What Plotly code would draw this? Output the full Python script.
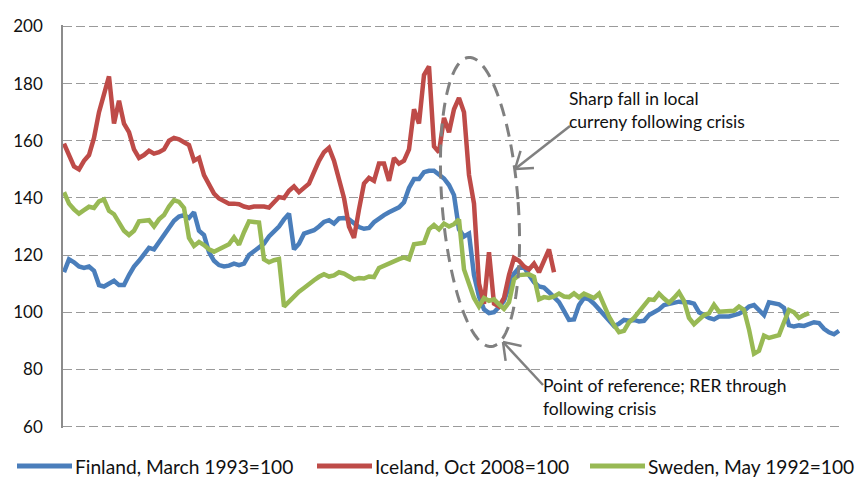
import math
import plotly.graph_objects as go

# ---- data (index-based, monthly-like positions) ----
finland = [114, 118.5, 117.5, 116, 115.5, 116, 114.5, 109.5, 109, 110,
           111, 109.5, 109.5, 113, 116, 118, 120, 122.5, 122, 124.5,
           127, 129.5, 132, 133.5, 134, 133, 135, 128.5, 127, 121,
           118, 116.5, 116, 116.3, 117, 116.5, 117, 120, 121.5, 122.8,
           124, 126.5, 128, 130, 132.5, 134.5, 122, 124, 127.5, 128,
           128.7, 130, 131.6, 132.2, 131, 132.8, 133, 132.5, 131, 129.8,
           129.2, 129.5, 131.5, 133, 134, 135, 136, 136.7, 138.5, 143.5,
           146.6, 146.6, 149, 149.5, 149.5, 148, 146.8, 144.5, 141, 129,
           126.5, 127.5, 113, 105.5, 101, 99.7, 100, 101.8, 104, 109,
           113.5, 115.5, 115.8, 113, 110.5, 109, 108.6, 107, 105, 103.5,
           100.5, 97.3, 97.5, 102.5, 105, 104.5, 103, 101, 99, 97,
           95.2, 96, 97.3, 97, 97.3, 96.8, 97, 99, 100, 101,
           102.5, 103, 103.3, 103.7, 103.5, 103.5, 103, 100, 99, 98,
           97.5, 98.5, 98.5, 98.5, 99, 99.5, 100.5, 102, 102.5, 100.5,
           99, 103.5, 103, 102.8, 101.5, 95.5, 95, 95.4, 95.2, 95.8,
           96.5, 96.2, 94.2, 93, 92.3, 93.5]

iceland = [159, 155, 151, 150, 153, 155, 161, 170, 177, 182.5,
           166, 174, 166, 163, 157, 154, 155, 156.5, 155.5, 156,
           157, 160, 161, 160.5, 159.5, 158.5, 153, 154, 148, 145,
           141.5, 139.8, 139, 138, 138, 137.8, 137, 136.6, 137, 137,
           137, 136.6, 138.6, 140.3, 140, 142.5, 144, 142, 143.5, 145,
           149, 153, 156, 157.5, 153, 146, 140, 130, 126, 136,
           145, 147, 146, 152, 152, 146, 154, 152, 153, 157,
           171, 166, 183, 186, 158, 156, 168, 163, 171, 175,
           170, 148, 138, 110, 103, 121, 103, 102, 105, 113,
           119, 118, 116, 115, 117, 114, 118, 122, 114]

sweden = [142, 138, 136, 134.5, 135.7, 136.9, 136.5, 138.8, 139.5, 135.5,
          134.3, 131.5, 128.5, 127, 128.5, 131.8, 132.2, 132.2, 130, 132.5,
          134, 137, 139.2, 138.6, 136.5, 126, 123.2, 124.6, 123.5, 122,
          121.2, 122, 122.8, 123.8, 126.2, 123.6, 128, 131.8, 131.6, 131.4,
          118.5, 117.5, 118.2, 118.6, 102, 103.8, 105.5, 107.2, 108.5, 110,
          111.2, 112.4, 113.3, 112.5, 112.9, 114, 113.5, 112.5, 111.5, 112,
          111.8, 112.5, 112.3, 115.5, 116.3, 117.4, 118, 118.6, 119.2, 118.5,
          123.8, 124, 124.3, 129, 130.5, 129, 131, 130, 130.8, 132.5,
          115, 110, 105, 102, 105, 104, 104.5, 102.8, 101.2, 103.5,
          111.5, 113, 113, 113.3, 112.4, 104.5, 105.3, 105, 105.5, 106.5,
          105.5, 105.3, 106.6, 105.2, 106.5, 105.8, 105, 106.5, 102, 98.5,
          95.5, 93, 93.5, 96.5, 98, 100, 102.3, 104.5, 104.3, 106.5,
          104.8, 103.3, 105, 107, 104, 98, 95.8, 97.3, 99, 99.7,
          102.6, 100.2, 100.2, 100.5, 100.5, 102, 100.8, 94, 85.5, 86.5,
          91.8, 91, 91.5, 92, 96.5, 100.8, 100, 98, 99, 99.7]

series_names = ["Finland, March 1993=100", "Iceland, Oct 2008=100", "Sweden, May 1992=100"]
series_values = [finland, iceland, sweden]
series_colors = ["#4A7EBB", "#BE4B48", "#98B954"]

y_ticks = [60, 80, 100, 120, 140, 160, 180, 200]

# ---- layout geometry ----
W, H = 856, 477
L, R, T, B = 63, 16, 25, 49
PW = W - L - R
PH = H - T - B


def fx(px):
    return (px - L) / PW


def fy(py):
    return (H - B - py) / PH


FONT = "Lato, 'Open Sans', sans-serif"
TXT = "#111111"

fig = go.Figure()
for name, vals, col in zip(series_names, series_values, series_colors):
    fig.add_trace(go.Scatter(
        x=list(range(len(vals))), y=vals, mode="lines", name=name,
        line=dict(color=col, width=4.5), showlegend=False,
    ))

shapes = []

# dashed ellipse
cx, cy, a, b, th = 480, 202, 145, 38, math.radians(4.5)
pts = []
for k in range(0, 121):
    t = 2 * math.pi * k / 120
    ux, uy = -math.sin(th), -math.cos(th)
    vx, vy = math.cos(th), -math.sin(th)
    x = cx + a * math.sin(t) * ux + b * math.cos(t) * vx
    y = cy + a * math.sin(t) * uy + b * math.cos(t) * vy
    pts.append((fx(x), fy(y)))
path = "M " + " L ".join(f"{x:.5f},{y:.5f}" for x, y in pts) + " Z"
shapes.append(dict(type="path", path=path, xref="paper", yref="paper",
                   line=dict(color="#808080", width=3, dash="13px,8px")))


def arrow(tail, tip, arm=19, ang=35):
    out = []
    out.append(dict(type="line", xref="paper", yref="paper",
                    x0=fx(tail[0]), y0=fy(tail[1]), x1=fx(tip[0]), y1=fy(tip[1]),
                    line=dict(color="#808080", width=2.5)))
    dx, dy = tail[0] - tip[0], tail[1] - tip[1]
    n = math.hypot(dx, dy)
    dx, dy = dx / n, dy / n
    for s in (1, -1):
        c, si = math.cos(math.radians(ang)), s * math.sin(math.radians(ang))
        rx, ry = dx * c - dy * si, dx * si + dy * c
        out.append(dict(type="line", xref="paper", yref="paper",
                        x0=fx(tip[0]), y0=fy(tip[1]),
                        x1=fx(tip[0] + arm * rx), y1=fy(tip[1] + arm * ry),
                        line=dict(color="#808080", width=2.5)))
    return out


shapes += arrow((570, 126), (515, 169))
shapes += arrow((543, 385), (503, 342))

annotations = [
    dict(x=fx(567), y=fy(110), xref="paper", yref="paper", xanchor="left", yanchor="middle",
         text="Sharp fall in local<br>curreny following crisis", showarrow=False, align="left",
         font=dict(family=FONT, size=17.5, color=TXT)),
    dict(x=fx(541), y=fy(397), xref="paper", yref="paper", xanchor="left", yanchor="middle",
         text="Point of reference; RER through<br>following crisis", showarrow=False, align="left",
         font=dict(family=FONT, size=17.5, color=TXT)),
]

# manual legend (line sample + label)
legend_pos = [(17, 72, 73), (317, 372, 373), (590, 645, 646)]
LEG_Y = 466
for (x0, x1, xt), name, col in zip(legend_pos, series_names, series_colors):
    shapes.append(dict(type="line", xref="paper", yref="paper",
                       x0=fx(x0), x1=fx(x1), y0=fy(LEG_Y), y1=fy(LEG_Y),
                       line=dict(color=col, width=5)))
    annotations.append(dict(x=fx(xt), y=fy(LEG_Y), xref="paper", yref="paper",
                            xanchor="left", yanchor="middle", text=name, showarrow=False,
                            font=dict(family=FONT, size=19.2, color=TXT)))

fig.update_layout(
    width=W, height=H,
    margin=dict(l=L, r=R, t=T, b=B, pad=0, autoexpand=False),
    paper_bgcolor="white", plot_bgcolor="white",
    font=dict(family=FONT, size=18, color=TXT),
    showlegend=False,
    xaxis=dict(range=[-0.2, 155.2], visible=False, showgrid=False, zeroline=False),
    yaxis=dict(range=[59.5, 200.5], tickvals=y_ticks, ticktext=[str(v) for v in y_ticks],
               showgrid=True, gridcolor="#9A9A9A", gridwidth=1.3, griddash="9px,4px",
               showline=True, linecolor="#8C8C8C", linewidth=1.5, ticks="",
               ticklabelstandoff=15, zeroline=False,
               tickfont=dict(family=FONT, size=17, color=TXT)),
    shapes=shapes,
    annotations=annotations,
)

fig.write_html("out.html", config={"displayModeBar": False},
               post_script="document.body.style.margin='0';document.body.style.overflow='hidden';")
